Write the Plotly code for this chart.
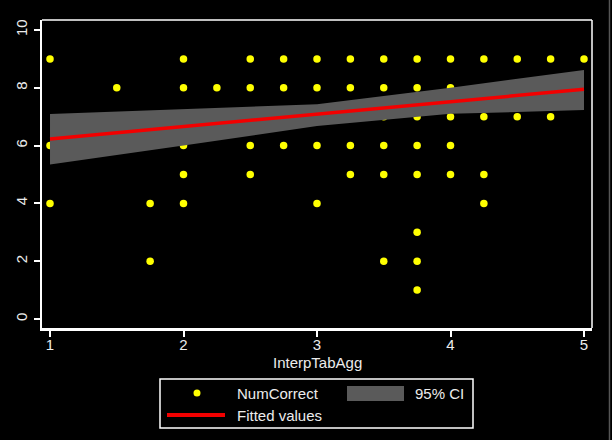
import plotly.graph_objects as go

# ---- data ----
x_vals = [1, 2, 2.5, 2.75, 3, 3.25, 3.5, 3.75, 4, 4.25, 4.5, 4.75, 5,
          1.5, 2, 2.25, 2.5, 2.75, 3, 3.25, 3.5, 3.75, 4, 4.25,
          3.5, 3.75, 4, 4.25, 4.5, 4.75,
          1, 2, 2.5, 2.75, 3, 3.25, 3.5, 3.75, 4,
          2, 2.5, 3.25, 3.5, 3.75, 4, 4.25,
          1, 1.75, 2, 3, 4.25,
          3.75,
          1.75, 3.5, 3.75,
          3.75]
y_vals = [9] * 13 + [8] * 11 + [7] * 6 + [6] * 9 + [5] * 7 + [4] * 5 + [3] * 1 + [2] * 3 + [1] * 1

fit_x = [1, 5]
fit_y = [6.23, 7.95]

ci_x = [1, 2, 3, 4, 5]
ci_lo = [5.35, 6.0, 6.68, 7.10, 7.23]
ci_hi = [7.09, 7.25, 7.43, 8.00, 8.62]

x_ticks = [1, 2, 3, 4, 5]
y_ticks = [0, 2, 4, 6, 8, 10]

FONT = "Liberation Sans, Arial, sans-serif"
TXT = "#ececec"
BAND = "#5a5a5a"
RED = "#f20000"
YEL = "#ffff00"

fig = go.Figure()
fig.add_trace(go.Scatter(x=x_vals, y=y_vals, mode="markers",
                         marker=dict(color=YEL, size=7.5, symbol="circle", line=dict(width=0)),
                         name="NumCorrect", showlegend=False))
fig.add_trace(go.Scatter(x=ci_x + ci_x[::-1], y=ci_hi + ci_lo[::-1], mode="lines",
                         fill="toself", fillcolor=BAND, line=dict(width=0, color=BAND),
                         name="95% CI", showlegend=False))
fig.add_trace(go.Scatter(x=fit_x, y=fit_y, mode="lines", line=dict(color=RED, width=3.5),
                         name="Fitted values", showlegend=False))

# pixel geometry helpers for the plot area (42..592 x, 20..328 y)
L, R, T, B = 42, 592, 20, 328
W, H = R - L, B - T


def px(xp):
    return (xp - L) / W


def py(yp):
    return (B - yp) / H


shapes = []
shapes.append(dict(type="line", xref="paper", yref="paper", x0=0, x1=1, y0=1, y1=1,
                   line=dict(color="white", width=1.5)))
shapes.append(dict(type="line", xref="paper", yref="paper", x0=1, x1=1, y0=0, y1=1,
                   line=dict(color="white", width=1.5)))
shapes.append(dict(type="line", xref="paper", yref="paper", x0=px(609.5), x1=px(609.5),
                   y0=py(0), y1=py(440), line=dict(color="#555555", width=1.5)))
shapes.append(dict(type="rect", xref="paper", yref="paper", x0=px(160), x1=px(473),
                   y0=py(428), y1=py(379), line=dict(color="white", width=1.5)))
shapes.append(dict(type="circle", xref="paper", yref="paper", x0=px(193.5), x1=px(200.5),
                   y0=py(396.5), y1=py(389.5), fillcolor=YEL, line=dict(width=0)))
shapes.append(dict(type="rect", xref="paper", yref="paper", x0=px(347), x1=px(404),
                   y0=py(401), y1=py(386), fillcolor=BAND, line=dict(width=0)))
shapes.append(dict(type="line", xref="paper", yref="paper", x0=px(167), x1=px(225),
                   y0=py(415), y1=py(415), line=dict(color=RED, width=4)))

annotations = [
    dict(text="NumCorrect", x=px(235), y=py(393), xref="paper", yref="paper",
         xanchor="left", yanchor="middle", showarrow=False, font=dict(family=FONT, size=15, color=TXT)),
    dict(text="95% CI", x=px(413), y=py(393), xref="paper", yref="paper",
         xanchor="left", yanchor="middle", showarrow=False, font=dict(family=FONT, size=15, color=TXT)),
    dict(text="Fitted values", x=px(235), y=py(415), xref="paper", yref="paper",
         xanchor="left", yanchor="middle", showarrow=False, font=dict(family=FONT, size=15, color=TXT)),
    dict(text="InterpTabAgg", x=px(317), y=py(363), xref="paper", yref="paper",
         xanchor="center", yanchor="middle", showarrow=False, font=dict(family=FONT, size=15, color=TXT)),
]

fig.update_layout(
    width=612, height=440,
    margin=dict(l=L, r=612 - R, t=T, b=440 - B, pad=0),
    paper_bgcolor="black", plot_bgcolor="black",
    showlegend=False,
    font=dict(family=FONT, size=15, color=TXT),
    shapes=shapes, annotations=annotations,
    xaxis=dict(range=[0.94, 5.06], tickvals=x_ticks, ticks="outside", ticklen=6,
               tickwidth=1.5, tickcolor="white", showline=True, linecolor="white",
               linewidth=2.5, showgrid=False, zeroline=False, ticklabelstandoff=-5,
               tickfont=dict(family=FONT, size=15, color=TXT)),
    yaxis=dict(range=[-0.311, 10.346], tickvals=y_ticks, ticks="outside", ticklen=6,
               tickwidth=1.5, tickcolor="white", showline=True, linecolor="white",
               linewidth=1.5, showgrid=False, zeroline=False, tickangle=-90,
               ticklabelstandoff=1,
               tickfont=dict(family=FONT, size=15, color=TXT)),
)

fig.write_html("out.html")
